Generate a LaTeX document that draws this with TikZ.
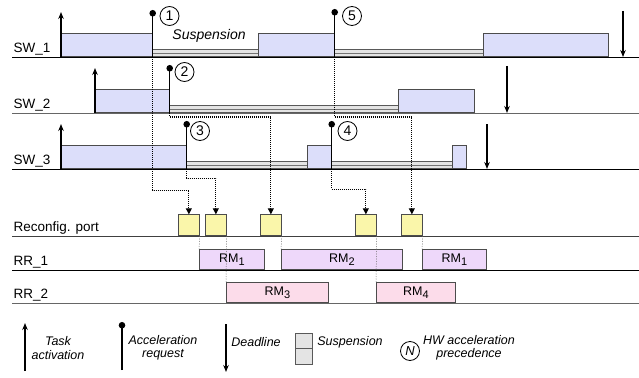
\documentclass[tikz,border=0pt]{standalone}
\usepackage{fontspec}
\setmainfont{Liberation Sans}
\usetikzlibrary{arrows.meta}
\definecolor{taskblue}{RGB}{220,222,250}
\definecolor{portyellow}{RGB}{250,246,170}
\definecolor{rmviolet}{RGB}{238,216,250}
\definecolor{rmpink}{RGB}{252,220,234}
\definecolor{suspgray}{RGB}{228,228,228}
\newcommand{\rmsub}[1]{RM\raisebox{-0.4ex}{\fontsize{11}{12}\selectfont #1}}

\begin{document}
\begin{tikzpicture}[x=1pt,y=-1pt,
  rowline/.style={line width=0.9pt},
  rowlabel/.style={anchor=south west,inner sep=1.5pt,font=\fontsize{13.5}{15}\selectfont},
  taskbox/.style={draw=black!70,fill=taskblue,line width=0.7pt,inner sep=0pt,anchor=south west,minimum height=23pt},
  suspbar/.style={draw=black!65,fill=suspgray,line width=0.6pt,inner sep=0pt,anchor=south west,minimum height=7pt,
    path picture={\draw[black!55,line width=0.6pt] (path picture bounding box.west) -- (path picture bounding box.east);}},
  portbox/.style={draw=black!70,fill=portyellow,line width=0.7pt,inner sep=0pt,anchor=south west,minimum width=21pt,minimum height=21pt},
  rmbox/.style={draw=black!70,line width=0.7pt,inner sep=0pt,anchor=south west,minimum height=20pt,font=\fontsize{12.5}{14}\selectfont},
  act/.style={line width=1.1pt,-{Stealth[length=7pt,width=5.5pt]}},
  req/.style={line width=1.1pt,-{Circle[length=6.5pt]}},
  num/.style={circle,draw,line width=0.8pt,minimum size=19pt,inner sep=0pt,font=\fontsize{14}{16}\selectfont},
  prec/.style={line width=1pt,dash pattern=on 1pt off 1pt,-{Triangle[length=6pt,width=6pt]}},
  guide/.style={line width=0.5pt,dash pattern=on 1pt off 1.5pt,black!60},
  legtext/.style={align=center,font=\fontsize{12.5}{13.5}\selectfont\itshape}
]
\useasboundingbox (0,0) rectangle (639,377);

% SW_1 row
\node[rowlabel] (lsw1) at (12,57) {SW\_1};
\draw[rowline] (lsw1.south west) -- (639,57);
\node[taskbox,minimum width=91pt] (s1a) at (61,57) {};
\node[suspbar,minimum width=106pt] (u1a) at (152,57) {};
\node[taskbox,minimum width=76pt] (s1b) at (258,57) {};
\node[suspbar,minimum width=149pt] (u1b) at (334,57) {};
\node[taskbox,minimum width=125pt] (s1c) at (483,57) {};
\node[font=\fontsize{14}{16}\selectfont\itshape] (susplabel) at (209,36) {Suspension};
\draw[act] (s1a.south west) -- ++(0,-45);
\draw[req] (s1a.south east) -- ++(0,-47);
\draw[req] (s1b.south east) -- ++(0,-48);
\node[num] (n1) at (169.5,16) {1};
\node[num] (n5) at (352,16) {5};
\coordinate (d1) at (623,57);
\draw[act] (d1) ++(0,-46) -- (d1);

% SW_2 row
\node[rowlabel] (lsw2) at (12,113) {SW\_2};
\draw[rowline,black!60] (lsw2.south west) -- (639,113);
\node[taskbox,minimum width=74pt] (s2a) at (95,113) {};
\node[suspbar,minimum width=229pt] (u2a) at (169,113) {};
\node[taskbox,minimum width=76pt] (s2b) at (398,113) {};
\draw[act] (s2a.south west) -- ++(0,-45);
\draw[req] (s2a.south east) -- ++(0,-48);
\node[num] (n2) at (184.5,72) {2};
\coordinate (d2) at (507,113);
\draw[act] (d2) ++(0,-47) -- (d2);

% SW_3 row
\node[rowlabel] (lsw3) at (12,169) {SW\_3};
\draw[rowline] (lsw3.south west) -- (639,169);
\node[taskbox,minimum width=125pt] (s3a) at (61,169) {};
\node[suspbar,minimum width=121pt] (u3a) at (186,169) {};
\node[taskbox,minimum width=24pt] (s3b) at (307,169) {};
\node[suspbar,minimum width=121pt] (u3b) at (331,169) {};
\node[taskbox,minimum width=14pt] (s3c) at (452,169) {};
\draw[act] (s3a.south west) -- ++(0,-45);
\draw[req] (s3a.south east) -- ++(0,-48);
\draw[req] (s3b.south east) -- ++(0,-48);
\node[num] (n3) at (200,131) {3};
\node[num] (n4) at (347.5,131) {4};
\coordinate (d3) at (487,169);
\draw[act] (d3) ++(0,-45) -- (d3);

% Reconfiguration port
\node[rowlabel] (lport) at (12,236) {Reconfig. port};
\draw[rowline,black!75] (lport.south west) -- (639,236);
\node[portbox] (p1) at (178,236) {};
\node[portbox] (p2) at (205,236) {};
\node[portbox] (p3) at (260,236) {};
\node[portbox] (p4) at (355,236) {};
\node[portbox] (p5) at (401,236) {};

% Reconfigurable regions
\node[rowlabel] (lrr1) at (12,270) {RR\_1};
\draw[rowline] (lrr1.south west) -- (639,270);
\node[rmbox,fill=rmviolet,minimum width=65pt] (rm1a) at (199,270) {\rmsub{1}};
\node[rmbox,fill=rmviolet,minimum width=121pt] (rm2) at (281,270) {\rmsub{2}};
\node[rmbox,fill=rmviolet,minimum width=64pt] (rm1b) at (422,270) {\rmsub{1}};
\node[rowlabel] (lrr2) at (12,303) {RR\_2};
\draw[rowline,black!60] (lrr2.south west) -- (639,303);
\node[rmbox,fill=rmpink,minimum width=102pt] (rm3) at (226,303) {\rmsub{3}};
\node[rmbox,fill=rmpink,minimum width=79pt] (rm4) at (376,303) {\rmsub{4}};

% Precedences
\draw[prec] (s1a.south east) -- ++(0,133) -| (p1.north);
\draw[prec] (s2a.south east) -- ++(0,4) -| (p3.north);
\draw[prec] (s3a.south east) -- ++(0,9) -| (p2.north);
\draw[prec] (s3b.south east) -- ++(0,20) -| (p4.north);
\draw[prec] (s1b.south east) -- ++(0,60) -| (p5.north);
\draw[guide] (p1.south east) -- (rm1a.north west);
\draw[guide] (p2.south east) -- (rm3.north west);
\draw[guide] (p3.south east) -- (rm2.north west);
\draw[guide] (p4.south east) -- (rm4.north west);
\draw[guide] (p5.south east) -- (rm1b.north west);

% Legend
\coordinate (lact) at (25,371);
\draw[act] (lact) -- ++(0,-48);
\node[legtext] (tact) at (58,348) {Task\\activation};
\coordinate (lreq) at (122,370);
\draw[req] (lreq) -- ++(0,-48);
\node[legtext] (treq) at (163,348) {Acceleration\\request};
\coordinate (ldl) at (226,372);
\draw[act] (ldl) ++(0,-48) -- (ldl);
\node[legtext] (tdl) at (256,342) {Deadline};
\node[draw=black!65,fill=suspgray,line width=0.6pt,minimum width=17pt,minimum height=31pt,inner sep=0pt,
  path picture={\draw[black!65,line width=0.6pt] (path picture bounding box.west) -- (path picture bounding box.east);}] (lsusp) at (303.5,348.5) {};
\node[legtext] (tsusp) at (350,342) {Suspension};
\node[num,font=\fontsize{13}{15}\selectfont\itshape] (lnum) at (410,351) {N};
\node[legtext] (tnum) at (469,348) {HW acceleration\\precedence};
\end{tikzpicture}
\end{document}
